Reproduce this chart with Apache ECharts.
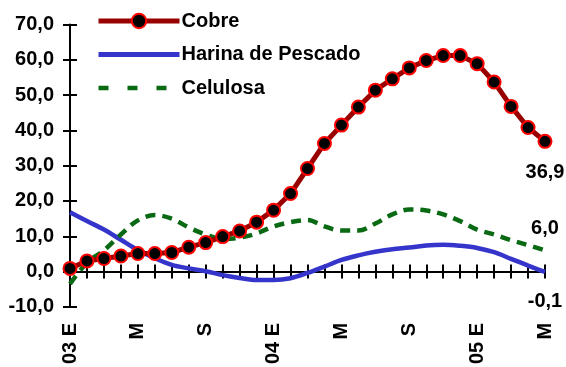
<!DOCTYPE html>
<html>
<head>
<meta charset="utf-8">
<script src="https://cdn.jsdelivr.net/npm/echarts@6/dist/echarts.min.js"></script>
<style>
  html, body { margin: 0; padding: 0; background: #fff; }
  #chart { width: 566px; height: 367px; }
</style>
</head>
<body>
<div id="chart"></div>
<script>
// Monthly index variation, Jan 2003 – May 2005
const months = [
  '03 E', 'F', 'M', 'A', 'M', 'J', 'J', 'A', 'S', 'O', 'N', 'D',
  '04 E', 'F', 'M', 'A', 'M', 'J', 'J', 'A', 'S', 'O', 'N', 'D',
  '05 E', 'F', 'M', 'A', 'M'
];

const cobre = [
  0.9, 3.0, 3.7, 4.4, 5.1, 5.1, 5.4, 6.9, 8.2, 9.9, 11.5, 14.0,
  17.4, 22.1, 29.2, 36.3, 41.5, 46.6, 51.4, 54.6, 57.7, 59.8, 61.2, 61.2,
  58.9, 53.7, 46.8, 40.8, 36.9
];

const harina = [
  16.8, 14.3, 11.9, 9.0, 6.1, 3.8, 1.9, 0.9, 0.1, -1.0, -1.8, -2.4,
  -2.4, -1.9, -0.4, 1.4, 3.3, 4.6, 5.6, 6.3, 6.8, 7.4, 7.6, 7.3,
  6.7, 5.5, 3.6, 1.7, -0.1
];

const celulosa = [
  -3.5, 2.5, 6.0, 10.5, 14.5, 16.0, 15.0, 12.5, 10.5, 9.2, 9.6, 10.8,
  12.8, 14.0, 14.6, 12.8, 11.6, 11.6, 13.6, 16.2, 17.6, 17.3, 16.2, 14.3,
  11.9, 10.5, 8.9, 7.5, 6.0
];

const yTicks = { min: -10, max: 70, step: 10 };

const FONT = '"Liberation Sans", Arial, sans-serif';
const fmt = v => v.toFixed(1).replace('.', ',');

const COBRE_COLOR = '#990000';
const HARINA_COLOR = '#3535CC';
const CELULOSA_COLOR = '#0A6A14';

// put a value label on the final point of a series
function withEndLabel(values, position, distance) {
  return values.map((v, i) => i === values.length - 1
    ? { value: v, label: { show: true, position, distance, formatter: p => fmt(p.value),
        fontFamily: FONT, fontWeight: 'bold', fontSize: 20, color: '#000' } }
    : v);
}

const chart = echarts.init(document.getElementById('chart'), null, { renderer: 'canvas' });

const tickStyle = { color: '#000', width: 2 };

const yBase = {
  type: 'value', min: yTicks.min, max: yTicks.max, interval: yTicks.step,
  position: 'left', splitLine: { show: false }
};

const xBase = {
  type: 'category', data: months, boundaryGap: false, position: 'bottom'
};

chart.setOption({
  animation: false,
  backgroundColor: '#fff',
  grid: { left: 70, right: 21, top: 24.5, bottom: 58, containLabel: false },
  legend: {
    orient: 'vertical', left: 96, top: 11, padding: 0,
    itemWidth: 81, itemHeight: 18, itemGap: 13.5,
    textStyle: { fontFamily: FONT, fontWeight: 'bold', fontSize: 20, color: '#000', padding: [0, 0, 0, -3] },
    data: [
      { name: 'Cobre', lineStyle: { width: 5, color: COBRE_COLOR } },
      { name: 'Harina de Pescado', itemStyle: { opacity: 0 }, lineStyle: { width: 5, color: HARINA_COLOR } },
      { name: 'Celulosa', itemStyle: { opacity: 0 }, lineStyle: { width: 4.5, color: CELULOSA_COLOR, type: [10, 19] } }
    ]
  },
  yAxis: [
    Object.assign({}, yBase, {
      axisLine: { show: true, lineStyle: tickStyle },
      axisTick: { show: true, length: 7, lineStyle: tickStyle },
      axisLabel: { formatter: fmt, fontFamily: FONT, fontWeight: 'bold', fontSize: 20, color: '#000', margin: 16 }
    }),
    Object.assign({}, yBase, {
      axisLine: { show: false },
      axisTick: { show: true, inside: true, length: 7, lineStyle: tickStyle },
      axisLabel: { show: false }
    })
  ],
  xAxis: [
    Object.assign({}, xBase, {
      axisLine: { show: false, onZero: false },
      axisTick: { show: false },
      axisLabel: { rotate: 90, interval: 3, fontFamily: FONT, fontWeight: 'bold', fontSize: 20, color: '#000', margin: 16 }
    }),
    Object.assign({}, xBase, {
      axisLine: { show: true, onZero: true, onZeroAxisIndex: 0, lineStyle: tickStyle },
      axisTick: { show: true, interval: 0, length: 7, lineStyle: tickStyle },
      axisLabel: { show: false }
    }),
    Object.assign({}, xBase, {
      axisLine: { show: false, onZero: true, onZeroAxisIndex: 1 },
      axisTick: { show: true, inside: true, interval: 0, length: 7, lineStyle: tickStyle },
      axisLabel: { show: false }
    })
  ],
  series: [
    {
      name: 'Harina de Pescado', type: 'line', xAxisIndex: 0, yAxisIndex: 0,
      data: withEndLabel(harina, 'bottom', 20),
      smooth: 0.35, symbol: 'circle', symbolSize: 0, showAllSymbol: true, z: 2,
      lineStyle: { color: HARINA_COLOR, width: 4.5 },
      itemStyle: { color: HARINA_COLOR }
    },
    {
      name: 'Celulosa', type: 'line', xAxisIndex: 0, yAxisIndex: 0,
      data: withEndLabel(celulosa, 'top', 12),
      smooth: 0.35, symbol: 'circle', symbolSize: 0, showAllSymbol: true, z: 2,
      lineStyle: { color: CELULOSA_COLOR, width: 4.5, type: [10, 7] },
      itemStyle: { color: CELULOSA_COLOR }
    },
    {
      name: 'Cobre', type: 'line', xAxisIndex: 0, yAxisIndex: 0,
      data: withEndLabel(cobre, 'bottom', 14),
      symbol: 'circle', symbolSize: 13, showAllSymbol: true, z: 3,
      lineStyle: { color: COBRE_COLOR, width: 5 },
      itemStyle: { color: '#000', borderColor: '#FF0000', borderWidth: 2 }
    }
  ]
});
</script>
</body>
</html>
